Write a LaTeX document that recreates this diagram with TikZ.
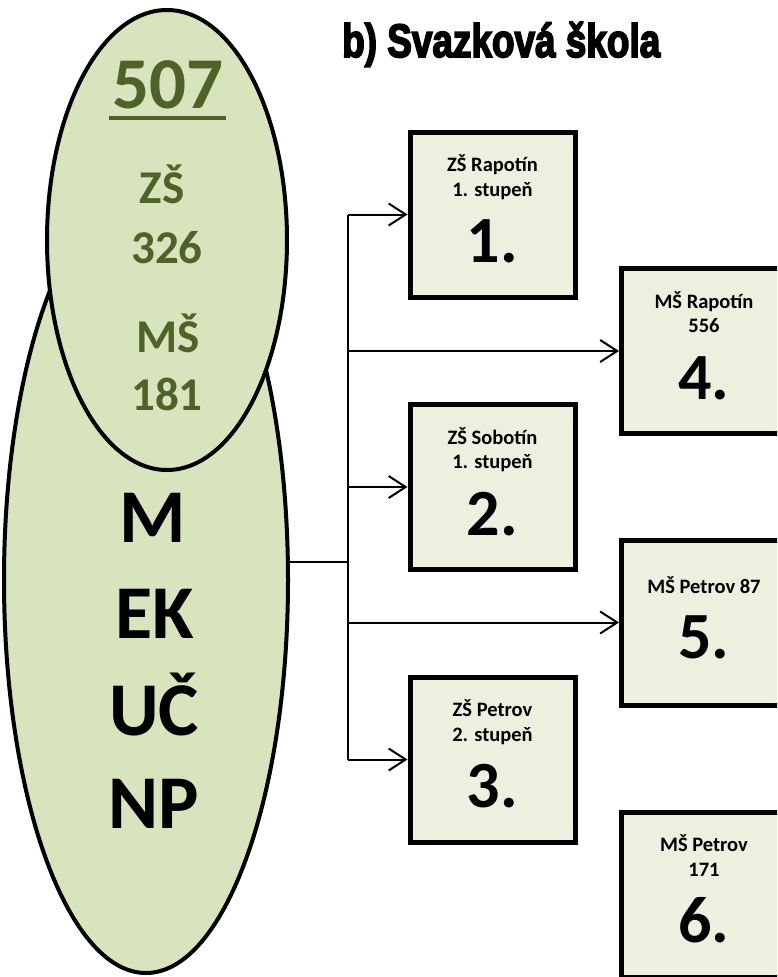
\documentclass[tikz,border=0pt]{standalone}
\usepackage{fontspec}
\setmainfont{Carlito}
\newfontfamily\titlefont{Liberation Sans}[BoldFeatures={FakeBold=4}]
\usetikzlibrary{arrows.meta,shapes.geometric,calc}
\definecolor{ellfill}{HTML}{D7E4BD}
\definecolor{boxfill}{HTML}{EBF1DE}
\definecolor{olivetxt}{HTML}{4F6228}
\begin{document}
\begin{tikzpicture}[x=1pt,y=-1pt,
  ell/.style={ellipse, draw=black, line width=4pt, fill=ellfill, inner sep=0pt},
  schoolbox/.style={rectangle, draw=black, line width=5pt, fill=boxfill, minimum width=165pt, minimum height=165pt, inner sep=0pt},
  boxtxt/.style={font=\bfseries\fontsize{20.5}{24}\selectfont, inner sep=0pt, anchor=base},
  boxnum/.style={font=\bfseries\fontsize{66}{70}\selectfont, inner sep=0pt, anchor=base},
  oltxt/.style={font=\bfseries\fontsize{47}{50}\selectfont, text=olivetxt, inner sep=0pt, anchor=base},
  bigtxt/.style={font=\bfseries\fontsize{76}{80}\selectfont, inner sep=0pt, anchor=base},
  conn/.style={line width=2pt},
  arr/.style={conn, -{Straight Barb[length=17pt,width=22pt]}}
]
\useasboundingbox (0,0) rectangle (777,977);
\clip (0,0) rectangle (777,977);
\fill[white] (0,0) rectangle (777,977);

% title
\node[inner sep=0pt, anchor=base west] (title) at (342,57)
  {\resizebox{318pt}{35pt}{\titlefont\bfseries b) Svazková škola}};

% ellipses
\node[ell, minimum width=284pt, minimum height=786pt] (big) at (146,580) {};
\node[ell, minimum width=240pt, minimum height=460pt] (small) at (167,240) {};

% small ellipse texts
\node[font=\bfseries\fontsize{73}{76}\selectfont, text=olivetxt, inner sep=0pt, anchor=base] (n507) at (168,108) {507};
\draw[olivetxt, line width=4pt] ([xshift=-3pt,yshift=-10pt]n507.base west) -- ([xshift=2pt,yshift=-10pt]n507.base east);
\node[oltxt] (zs) at (162,203) {ZŠ};
\node[oltxt] (n326) at (167,263) {326};
\node[oltxt] (ms) at (168,352) {MŠ};
\node[oltxt] (n181) at (167,410) {181};

% big ellipse texts
\node[bigtxt] (tm) at (153,542) {M};
\node[bigtxt] (tek) at (155,638) {EK};
\node[bigtxt] (tuc) at (154,735) {UČ};
\node[bigtxt] (tnp) at (154,828) {NP};

% boxes
\node[schoolbox] (b1) at (492.5,214.5) {};
\node[schoolbox] (b2) at (492.5,487) {};
\node[schoolbox] (b3) at (492.5,759.5) {};
\node[schoolbox] (b4) at (704,351) {};
\node[schoolbox] (b5) at (704,622.5) {};
\node[schoolbox] (b6) at (704,894.5) {};

% box texts
\node[boxtxt] (b1a) at ([yshift=43pt]b1.center) {ZŠ Rapotín};
\node[boxtxt] (b1b) at ([yshift=18.5pt]b1.center) {1. stupeň};
\node[boxnum] (b1n) at ([yshift=-48pt]b1.center) {1.};

\node[boxtxt] (b2a) at ([yshift=43pt]b2.center) {ZŠ Sobotín};
\node[boxtxt] (b2b) at ([yshift=18.5pt]b2.center) {1. stupeň};
\node[boxnum] (b2n) at ([yshift=-48pt]b2.center) {2.};

\node[boxtxt] (b3a) at ([yshift=43pt]b3.center) {ZŠ Petrov};
\node[boxtxt] (b3b) at ([yshift=18.5pt]b3.center) {2. stupeň};
\node[boxnum] (b3n) at ([yshift=-48pt]b3.center) {3.};

\node[boxtxt] (b4a) at ([yshift=43pt]b4.center) {MŠ Rapotín};
\node[boxtxt] (b4b) at ([yshift=18.5pt]b4.center) {556};
\node[boxnum] (b4n) at ([yshift=-48pt]b4.center) {4.};

\node[boxtxt] (b5a) at ([yshift=29.5pt]b5.center) {MŠ Petrov 87};
\node[boxnum] (b5n) at ([yshift=-35.5pt]b5.center) {5.};

\node[boxtxt] (b6a) at ([yshift=43pt]b6.center) {MŠ Petrov};
\node[boxtxt] (b6b) at ([yshift=18.5pt]b6.center) {171};
\node[boxnum] (b6n) at ([yshift=-48pt]b6.center) {6.};

% connectors
\coordinate (j) at (348,562);
\draw[conn] (big.east |- j) -- (j);
\draw[conn] (j |- b1) -- (j |- b3);
\draw[arr] (j |- b1) -- (b1);
\draw[arr] (j |- b2) -- (b2);
\draw[arr] (j |- b3) -- (b3);
\draw[arr] (j |- b4) -- (b4);
\draw[arr] (j |- b5) -- (b5);
\end{tikzpicture}
\end{document}
